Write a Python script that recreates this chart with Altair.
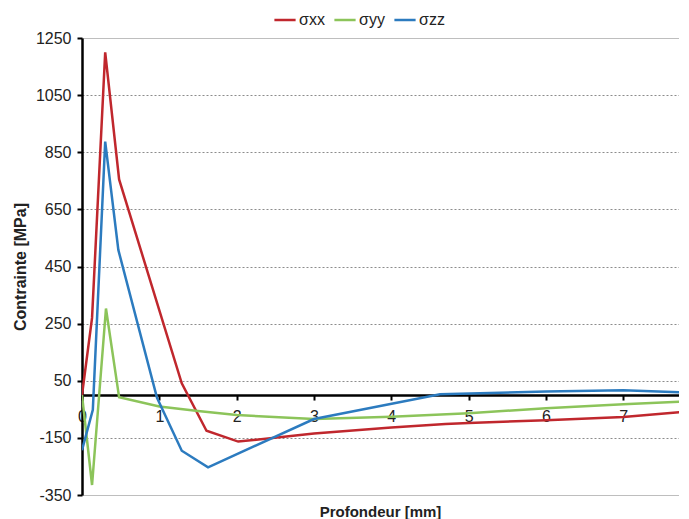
import altair as alt
import pandas as pd

series = ["σxx", "σyy", "σzz"]
colors = ["#C0272D", "#8CC45A", "#2C7BBF"]

xx_depth = [0, 0.13, 0.30, 0.48, 1.29, 1.61, 2.02, 3, 4, 4.7, 5, 6, 7, 7.8]
xx_stress = [0, 270, 1200, 755, 41, -125, -163, -135, -114, -101, -98, -88, -77, -58]
yy_depth = [0, 0.13, 0.31, 0.48, 1.0, 1.5, 2.0, 3, 4, 5, 6, 7, 7.8]
yy_stress = [0, -315, 303, -8, -40, -56, -70, -84, -76, -64, -46, -32, -23]
zz_depth = [0, 0.14, 0.30, 0.47, 0.97, 1.29, 1.63, 3, 4.63, 6, 7, 7.8]
zz_stress = [-193, -52, 887, 508, -10, -195, -253, -84, 3, 12, 17, 9]

y_ticks = [-350, -150, 50, 250, 450, 650, 850, 1050, 1250]
x_ticks = [0, 1, 2, 3, 4, 5, 6, 7]

rows = []
for name, xs, ys in zip(series, [xx_depth, yy_depth, zz_depth], [xx_stress, yy_stress, zz_stress]):
    for i, (a, b) in enumerate(zip(xs, ys)):
        rows.append({"series": name, "depth": a, "stress": b, "idx": i})
df = pd.DataFrame(rows)

W, H = 597, 457
ymin, ymax = -350, 1250
xmax = 7.72
x_offset = -H * (0 - ymin) / (ymax - ymin)

FONT = "Liberation Sans"

chart = alt.Chart(df).mark_line(strokeWidth=2.5, clip=True).encode(
    x=alt.X(
        "depth:Q",
        scale=alt.Scale(domain=[0, xmax], nice=False, zero=False),
        axis=alt.Axis(
            values=x_ticks, offset=x_offset, domainColor="black", domainWidth=2.5,
            tickColor="black", tickSize=5, tickWidth=2, labelFontSize=16,
            labelPadding=8, grid=False, title=None, labelColor="#222222",
            labelFlush=False, labelOverlap=False, labelExpr="toString(datum.value)",
        ),
    ),
    y=alt.Y(
        "stress:Q",
        scale=alt.Scale(domain=[ymin, ymax], nice=False, zero=False),
        axis=alt.Axis(
            values=y_ticks, title="Contrainte [MPa]", titleFontSize=16,
            titleFontWeight="bold", titleColor="#222222", titlePadding=7,
            domainColor="black", domainWidth=2.5, tickColor="black", tickSize=5,
            tickWidth=2, labelFontSize=16, labelPadding=6, labelColor="#222222",
            labelOverlap=False, labelExpr="toString(datum.value)",
            grid=True, gridWidth=1,
            gridDash={"condition": {"test": "datum.value === 1250 || datum.value === -350", "value": [1, 0]}, "value": [2, 2]},
            gridColor={"condition": {"test": "datum.value === 1250 || datum.value === -350", "value": "#a8a8a8"}, "value": "#8c8c8c"},
        ),
    ),
    color=alt.Color(
        "series:N",
        scale=alt.Scale(domain=series, range=colors),
        legend=alt.Legend(
            orient="none", legendX=191, legendY=-30, direction="horizontal",
            title=None, symbolType="stroke", symbolStrokeWidth=2.5, symbolSize=450,
            labelFontSize=16, labelColor="#222222", columnPadding=4, labelOffset=2,
        ),
    ),
    order="idx:Q",
).properties(
    width=W, height=H,
    title=alt.TitleParams("Profondeur [mm]", orient="bottom", fontSize=15,
                          fontWeight="bold", color="#222222", offset=2, anchor="middle"),
    padding={"left": 4, "top": 0, "right": 0, "bottom": 0},
).configure(font=FONT).configure_view(stroke=None)

chart.save("out.html", embed_options={"renderer": "svg", "actions": False})
